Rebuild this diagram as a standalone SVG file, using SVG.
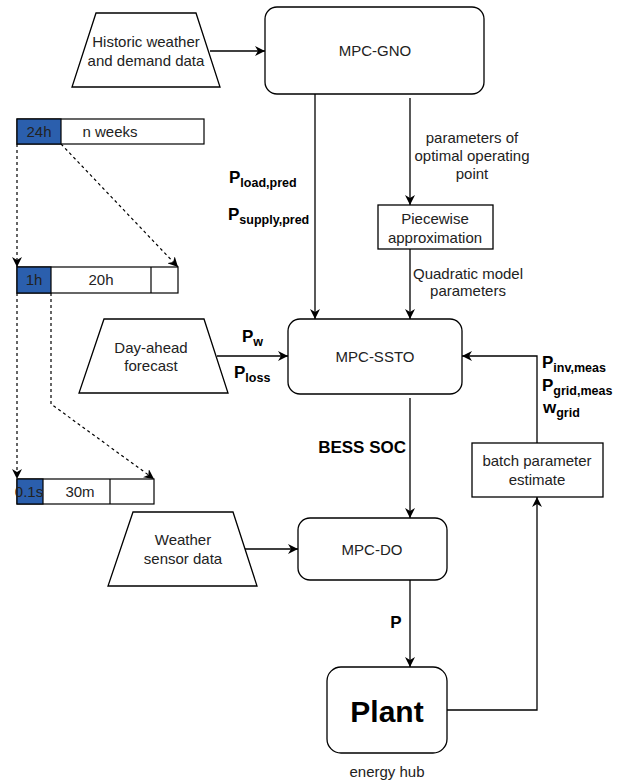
<svg xmlns="http://www.w3.org/2000/svg" width="626" height="783" viewBox="0 0 626 783">
<defs>
<marker id="arr" viewBox="0 0 10 10" refX="10" refY="5" markerWidth="10" markerHeight="10" markerUnits="userSpaceOnUse" orient="auto">
<path d="M0,0 L10,5 L0,10 L3,5 z" fill="#000"/>
</marker>
<style>
.box{fill:#fff;stroke:#000;stroke-width:1.3}
.ln{fill:none;stroke:#000;stroke-width:1.3}
.dl{fill:none;stroke:#000;stroke-width:1.2;stroke-dasharray:3 3}
.t{font-family:"Liberation Sans",Arial,sans-serif;font-size:15px;fill:#222;text-anchor:middle}
.b{font-family:"Liberation Sans",Arial,sans-serif;font-size:17px;font-weight:bold;fill:#000}
.sub{font-size:12.5px}
.blue{fill:#2b5fad;stroke:#000;stroke-width:1.2}
.bar{fill:#fff;stroke:#000;stroke-width:1.2}
</style>
</defs>

<g id="connectors">
<path class="ln" d="M210,51 L265,51" marker-end="url(#arr)"/>
<path class="ln" d="M315,94 L315,319" marker-end="url(#arr)"/>
<path class="ln" d="M410,98 L410,205" marker-end="url(#arr)"/>
<path class="ln" d="M410,249 L410,319" marker-end="url(#arr)"/>
<path class="ln" d="M217,356 L288,356" marker-end="url(#arr)"/>
<path class="ln" d="M410,398 L410,518" marker-end="url(#arr)"/>
<path class="ln" d="M245,549 L298,549" marker-end="url(#arr)"/>
<path class="ln" d="M410,580 L410,667" marker-end="url(#arr)"/>
<path class="ln" d="M447,710 L537,710 L537,497" marker-end="url(#arr)"/>
<path class="ln" d="M537,443 L537,356 L462,356" marker-end="url(#arr)"/>
<path class="dl" d="M17,144 L17,267" marker-end="url(#arr)"/>
<path class="dl" d="M61,144 L178,267" marker-end="url(#arr)"/>
<path class="dl" d="M17,293 L17,479" marker-end="url(#arr)"/>
<path class="dl" d="M51,293 L51,404 L154,479" marker-end="url(#arr)"/>
</g>

<g id="historic">
<path class="box" d="M96,13 L196,13 L220,87 L72,87 Z"/>
<text class="t" x="146" y="47">Historic weather</text>
<text class="t" x="146" y="66">and demand data</text>
</g>

<g id="mpc-gno">
<rect class="box" x="265" y="7" width="219" height="87" rx="12"/>
<text class="t" x="375" y="56">MPC-GNO</text>
</g>

<g id="label-pred">
<text class="b" x="229" y="183">P<tspan class="sub" dy="4">load,pred</tspan></text>
<text class="b" x="228" y="220">P<tspan class="sub" dy="4">supply,pred</tspan></text>
</g>

<g id="label-params">
<text class="t" x="472" y="143">parameters of</text>
<text class="t" x="472" y="161">optimal operating</text>
<text class="t" x="472" y="179">point</text>
</g>

<g id="piecewise">
<rect class="box" x="378" y="205" width="115" height="44"/>
<text class="t" x="435" y="224">Piecewise</text>
<text class="t" x="435" y="243">approximation</text>
</g>

<g id="label-quad">
<text class="t" x="468" y="279">Quadratic model</text>
<text class="t" x="468" y="296">parameters</text>
</g>

<g id="dayahead">
<path class="box" d="M104,319 L204,319 L228,393 L79,393 Z"/>
<text class="t" x="151" y="353">Day-ahead</text>
<text class="t" x="151" y="371">forecast</text>
</g>

<g id="label-pw">
<text class="b" x="242" y="342">P<tspan class="sub" dy="4">w</tspan></text>
<text class="b" x="234" y="378">P<tspan class="sub" dy="4">loss</tspan></text>
</g>

<g id="mpc-ssto">
<rect class="box" x="288" y="319" width="174" height="75" rx="12"/>
<text class="t" x="375" y="362">MPC-SSTO</text>
</g>

<g id="label-meas">
<text class="b" x="542" y="368">P<tspan class="sub" dy="4">inv,meas</tspan></text>
<text class="b" x="542" y="391">P<tspan class="sub" dy="4">grid,meas</tspan></text>
<text class="b" x="543" y="413">w<tspan class="sub" dy="4">grid</tspan></text>
</g>

<g id="label-soc">
<text class="b" x="406" y="453" text-anchor="end" font-size="16">BESS SOC</text>
</g>

<g id="batch">
<rect class="box" x="472" y="443" width="131" height="54"/>
<text class="t" x="537" y="466">batch parameter</text>
<text class="t" x="537" y="485">estimate</text>
</g>

<g id="weather">
<path class="box" d="M133,512 L233,512 L257,586 L108,586 Z"/>
<text class="t" x="183" y="545">Weather</text>
<text class="t" x="183" y="564">sensor data</text>
</g>

<g id="mpc-do">
<rect class="box" x="298" y="518" width="149" height="62" rx="12"/>
<text class="t" x="372" y="555">MPC-DO</text>
</g>

<g id="label-p">
<text class="b" x="396" y="628" text-anchor="middle" font-size="15">P</text>
</g>

<g id="plant">
<rect class="box" x="327" y="667" width="120" height="86" rx="14"/>
<text x="387" y="722" text-anchor="middle" font-family="'Liberation Sans',Arial,sans-serif" font-size="30" font-weight="bold" fill="#000">Plant</text>
<text class="t" x="387" y="777" font-size="14">energy hub</text>
</g>

<g id="timeline-1">
<rect class="bar" x="17" y="119" width="187" height="25"/>
<rect class="blue" x="17" y="119" width="44" height="25"/>
<text class="t" x="39" y="137">24h</text>
<text class="t" x="110" y="137">n weeks</text>
</g>

<g id="timeline-2">
<rect class="bar" x="17" y="267" width="161" height="26"/>
<rect class="blue" x="17" y="267" width="34" height="26"/>
<line x1="151" y1="267" x2="151" y2="293" stroke="#000" stroke-width="1.2"/>
<text class="t" x="34" y="285">1h</text>
<text class="t" x="101" y="285">20h</text>
</g>

<g id="timeline-3">
<rect class="bar" x="17" y="479" width="137" height="25"/>
<rect class="blue" x="17" y="479" width="26" height="25"/>
<line x1="110" y1="479" x2="110" y2="504" stroke="#000" stroke-width="1.2"/>
<text class="t" x="29" y="497">0.1s</text>
<text class="t" x="80" y="497">30m</text>
</g>
</svg>
